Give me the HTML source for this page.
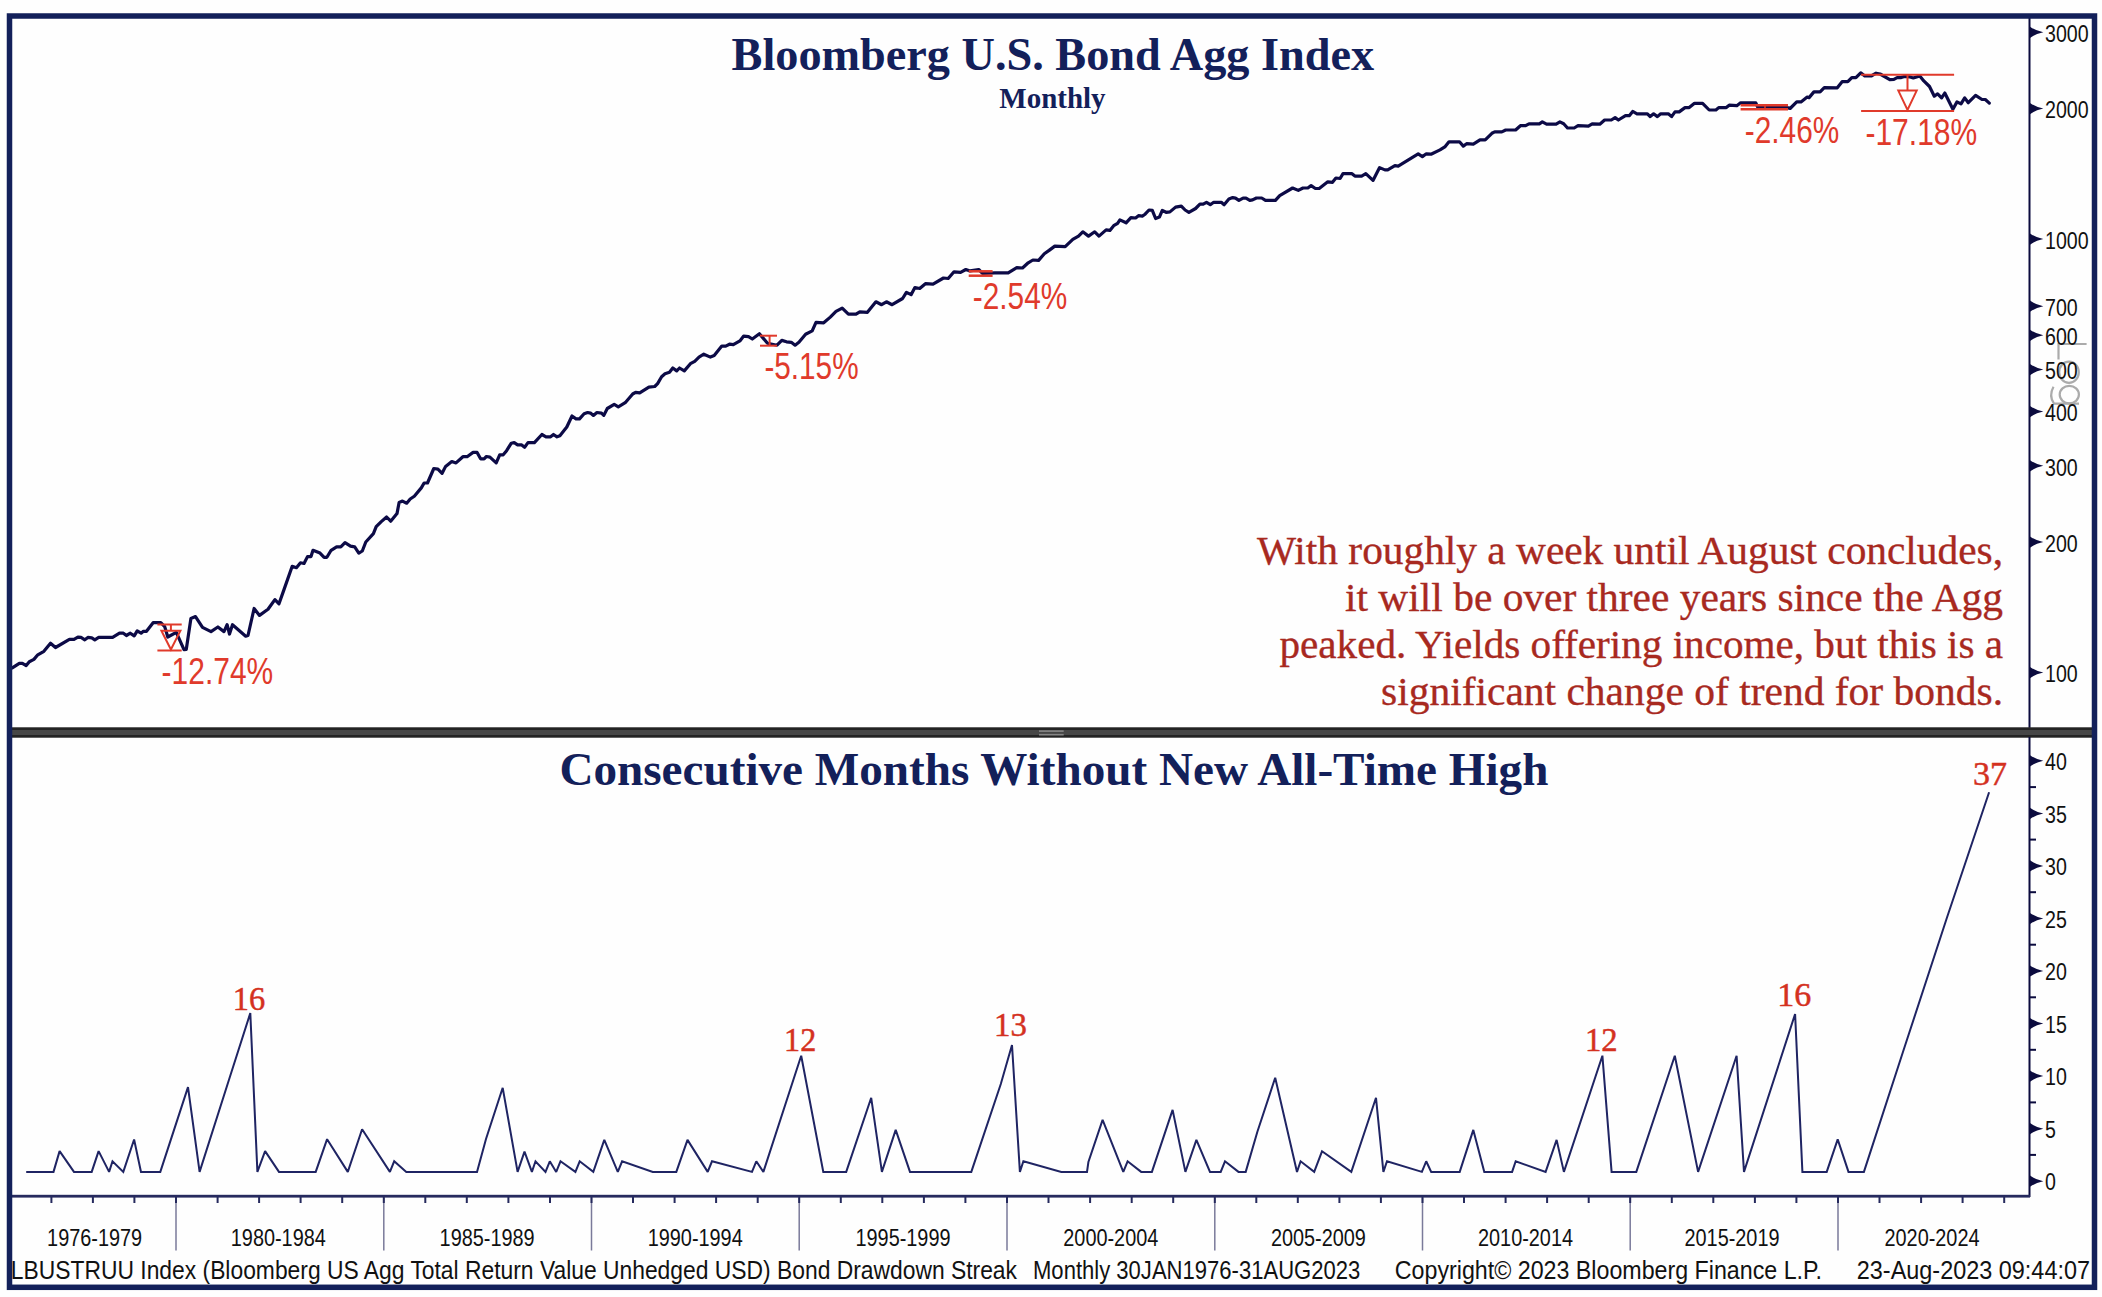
<!DOCTYPE html>
<html><head><meta charset="utf-8"><title>Bloomberg U.S. Bond Agg Index</title>
<style>html,body{margin:0;padding:0;background:#fefefe;overflow:hidden}svg{display:block}</style>
</head><body>
<svg width="2102" height="1297" viewBox="0 0 2102 1297"><rect x="0" y="0" width="2102" height="1297" fill="#fefefe"/><text x="731.6" y="69.8" font-family='"Liberation Serif", serif' font-weight="bold" font-size="46" fill="#13205a" textLength="642.5" lengthAdjust="spacingAndGlyphs">Bloomberg U.S. Bond Agg Index</text><text x="999.3" y="107.7" font-family='"Liberation Serif", serif' font-weight="bold" font-size="28.5" fill="#13205a" textLength="106.3" lengthAdjust="spacingAndGlyphs">Monthly</text><text x="1257" y="564.1" font-family='"Liberation Serif", serif' font-size="40" fill="#a8291f" stroke="#a8291f" stroke-width="0.35" textLength="746" lengthAdjust="spacingAndGlyphs">With roughly a week until August concludes,</text><text x="1345" y="610.7" font-family='"Liberation Serif", serif' font-size="40" fill="#a8291f" stroke="#a8291f" stroke-width="0.35" textLength="658" lengthAdjust="spacingAndGlyphs">it will be over three years since the Agg</text><text x="1279.5" y="658.1" font-family='"Liberation Serif", serif' font-size="40" fill="#a8291f" stroke="#a8291f" stroke-width="0.35" textLength="723.5" lengthAdjust="spacingAndGlyphs">peaked. Yields offering income, but this is a</text><text x="1381" y="705.1" font-family='"Liberation Serif", serif' font-size="40" fill="#a8291f" stroke="#a8291f" stroke-width="0.35" textLength="622" lengthAdjust="spacingAndGlyphs">significant change of trend for bonds.</text><g fill="none" stroke="#ababab" stroke-width="2.2"><path d="M2086.6,344 H2058.5 V359.5"/><ellipse cx="2069" cy="372.2" rx="9.8" ry="10.6"/><ellipse cx="2069.3" cy="394.6" rx="9.6" ry="8.8"/><path d="M2079,403.6 H2054 Q2048.5,396 2053.5,386.8"/></g><line x1="2029.5" y1="18" x2="2029.5" y2="728" stroke="#0b0b3e" stroke-width="2"/><path d="M2030,26.7 Q2035,30.5 2043.3,32.3 Q2035,34.1 2030,37.9 Z" fill="#0b0b3e"/><text x="2045" y="42.1" font-family='"Liberation Sans", sans-serif' font-size="23.5" fill="#111" textLength="43.6" lengthAdjust="spacingAndGlyphs">3000</text><path d="M2030,103.0 Q2035,106.8 2043.3,108.6 Q2035,110.4 2030,114.2 Z" fill="#0b0b3e"/><text x="2045" y="118.4" font-family='"Liberation Sans", sans-serif' font-size="23.5" fill="#111" textLength="43.6" lengthAdjust="spacingAndGlyphs">2000</text><path d="M2030,233.5 Q2035,237.3 2043.3,239.1 Q2035,240.9 2030,244.7 Z" fill="#0b0b3e"/><text x="2045" y="248.9" font-family='"Liberation Sans", sans-serif' font-size="23.5" fill="#111" textLength="43.6" lengthAdjust="spacingAndGlyphs">1000</text><path d="M2030,300.6 Q2035,304.4 2043.3,306.2 Q2035,308.0 2030,311.8 Z" fill="#0b0b3e"/><text x="2045" y="316.0" font-family='"Liberation Sans", sans-serif' font-size="23.5" fill="#111" textLength="32.7" lengthAdjust="spacingAndGlyphs">700</text><path d="M2030,329.7 Q2035,333.5 2043.3,335.3 Q2035,337.1 2030,340.9 Z" fill="#0b0b3e"/><text x="2045" y="345.1" font-family='"Liberation Sans", sans-serif' font-size="23.5" fill="#111" textLength="32.7" lengthAdjust="spacingAndGlyphs">600</text><path d="M2030,364.0 Q2035,367.8 2043.3,369.6 Q2035,371.4 2030,375.2 Z" fill="#0b0b3e"/><text x="2045" y="379.4" font-family='"Liberation Sans", sans-serif' font-size="23.5" fill="#111" textLength="32.7" lengthAdjust="spacingAndGlyphs">500</text><path d="M2030,406.0 Q2035,409.8 2043.3,411.6 Q2035,413.4 2030,417.2 Z" fill="#0b0b3e"/><text x="2045" y="421.4" font-family='"Liberation Sans", sans-serif' font-size="23.5" fill="#111" textLength="32.7" lengthAdjust="spacingAndGlyphs">400</text><path d="M2030,460.2 Q2035,464.0 2043.3,465.8 Q2035,467.6 2030,471.4 Z" fill="#0b0b3e"/><text x="2045" y="475.6" font-family='"Liberation Sans", sans-serif' font-size="23.5" fill="#111" textLength="32.7" lengthAdjust="spacingAndGlyphs">300</text><path d="M2030,536.5 Q2035,540.3 2043.3,542.1 Q2035,543.9 2030,547.7 Z" fill="#0b0b3e"/><text x="2045" y="551.9" font-family='"Liberation Sans", sans-serif' font-size="23.5" fill="#111" textLength="32.7" lengthAdjust="spacingAndGlyphs">200</text><path d="M2030,667.0 Q2035,670.8 2043.3,672.6 Q2035,674.4 2030,678.2 Z" fill="#0b0b3e"/><text x="2045" y="682.4" font-family='"Liberation Sans", sans-serif' font-size="23.5" fill="#111" textLength="32.7" lengthAdjust="spacingAndGlyphs">100</text><polyline points="12.3,667.9 19.3,663.3 22.4,663.3 26.2,665.6 29.3,661.7 33.9,659.4 37.8,654.8 43.9,651.3 50.5,643.2 55.5,647.5 69.4,639.4 74.0,639.4 77.9,637.1 81.0,637.4 84.8,639.8 87.9,637.4 91.8,637.8 94.8,639.8 98.7,637.4 112.6,637.4 119.5,633.2 123.4,633.2 126.4,635.5 130.3,633.2 134.2,635.9 137.2,630.9 141.1,633.2 143.4,631.3 146.5,631.3 153.1,622.7 160.8,622.7 164.7,626.6 167.8,637.0 176.3,632.4 184.0,649.7 186.3,649.3 190.9,618.5 195.5,616.6 202.5,627.4 211.0,631.6 217.9,627.0 224.0,631.6 227.1,624.7 229.5,634.0 232.5,624.7 245.7,636.2 248.0,635.5 254.1,608.5 259.5,615.4 268.0,609.3 274.9,599.6 279.0,603.8 283.9,589.9 292.2,566.3 296.4,567.7 300.5,562.8 304.0,563.5 307.5,556.6 311.0,556.6 313.0,550.3 320.0,553.1 324.1,557.3 326.9,557.3 331.1,550.3 336.6,546.9 340.8,546.9 345.0,542.7 350.5,546.2 354.7,546.9 358.8,553.1 362.3,551.0 365.8,542.0 373.4,533.7 376.2,526.7 381.0,521.9 386.6,517.0 390.7,521.2 397.0,513.6 399.1,502.5 402.5,501.1 406.7,503.2 410.2,499.0 414.3,496.2 421.3,487.9 424.1,483.0 427.5,483.0 433.8,468.5 437.9,469.1 442.1,473.3 445.6,466.4 451.8,461.5 456.0,462.9 462.9,456.7 467.1,456.7 473.1,452.4 477.1,452.4 480.6,458.8 484.1,458.8 486.4,456.5 489.9,457.1 496.2,462.9 499.7,454.8 503.2,454.8 506.6,450.7 511.3,443.2 514.2,442.6 517.6,444.9 521.7,444.9 524.6,447.2 528.0,442.6 534.4,442.6 541.9,434.5 546.0,436.8 550.6,436.8 553.5,434.5 557.0,436.8 559.9,435.7 566.8,427.0 572.0,416.0 576.0,418.9 579.5,418.9 584.1,413.7 587.6,412.5 590.5,413.1 593.4,415.4 596.9,412.5 601.5,413.1 603.8,415.4 607.3,408.5 614.2,404.4 618.3,406.8 625.2,402.7 632.7,394.0 635.6,392.3 639.7,392.9 648.9,387.1 654.7,386.5 657.6,383.6 661.6,376.7 665.0,373.8 669.5,372.3 672.8,368.0 676.7,370.9 679.5,368.0 684.3,370.9 690.4,363.7 694.7,361.3 699.0,357.1 703.8,354.2 710.4,357.1 714.2,355.6 721.8,346.1 725.7,346.1 729.5,344.2 733.3,344.7 739.9,340.9 743.7,336.1 748.5,336.6 752.3,339.0 759.4,333.7 767.5,343.3 777.0,345.2 781.8,340.4 786.5,341.8 791.3,342.3 795.1,345.2 798.9,342.3 805.6,334.2 812.2,330.9 816.0,322.3 823.7,322.8 830.3,317.1 836.0,311.4 842.2,308.1 848.4,314.2 856.0,314.2 859.8,311.8 867.4,312.3 875.9,301.8 881.6,304.7 886.4,301.8 892.1,304.7 902.6,298.5 906.4,292.3 911.1,294.7 914.9,287.5 919.7,288.5 925.4,283.7 933.0,284.2 943.5,278.0 948.2,278.5 954.0,271.8 960.6,272.3 965.8,269.5 970.1,270.9 978.7,269.5 982.5,273.3 994.9,272.8 1008.2,272.8 1016.8,267.6 1022.5,268.0 1028.2,262.8 1032.9,260.0 1038.6,260.4 1044.3,253.8 1049.1,250.4 1054.8,246.1 1065.2,246.6 1072.8,239.4 1078.5,236.1 1082.8,231.8 1088.5,236.1 1094.7,231.8 1099.0,236.1 1106.1,229.9 1109.9,230.4 1113.7,225.7 1117.6,223.3 1119.9,219.9 1126.1,222.8 1130.9,217.6 1135.6,218.0 1138.5,215.7 1142.3,216.1 1145.1,214.2 1149.0,210.0 1152.3,210.4 1155.6,218.5 1159.4,217.1 1162.3,210.4 1166.1,212.3 1169.9,211.9 1175.6,207.1 1181.3,206.1 1185.1,210.0 1188.9,212.3 1195.6,208.5 1199.9,204.2 1203.2,204.2 1206.5,202.3 1210.3,204.7 1213.7,202.3 1221.3,202.3 1224.1,204.7 1228.9,199.0 1232.7,197.6 1235.5,198.1 1238.9,200.4 1243.1,198.1 1246.0,198.1 1249.8,200.4 1252.6,199.9 1256.4,198.0 1261.7,198.0 1265.5,200.4 1275.4,200.4 1279.7,195.6 1292.6,188.0 1298.3,190.4 1303.0,188.0 1307.8,188.0 1311.1,185.6 1315.4,188.5 1319.2,188.5 1327.8,181.8 1332.5,182.3 1335.9,178.0 1340.1,178.5 1343.0,173.7 1352.0,173.7 1354.9,176.1 1361.6,176.1 1365.8,173.7 1373.0,180.4 1379.6,167.6 1384.9,169.9 1387.7,169.9 1394.9,165.7 1398.2,166.1 1418.2,153.8 1422.4,156.6 1426.3,153.8 1431.0,154.2 1440.0,149.9 1445.2,146.6 1449.0,141.8 1459.5,141.8 1463.3,146.1 1466.6,143.7 1473.3,144.2 1480.0,139.9 1485.2,139.9 1491.9,133.3 1494.7,131.9 1501.8,131.9 1505.7,130.0 1515.6,130.0 1520.4,125.7 1525.6,125.7 1529.0,123.8 1539.4,123.8 1542.3,121.9 1546.6,124.2 1556.1,124.2 1559.9,121.9 1563.7,123.8 1567.5,128.0 1574.2,128.0 1578.0,125.7 1588.4,126.1 1592.2,123.8 1599.8,124.2 1604.6,120.0 1611.3,120.0 1615.1,117.6 1618.4,120.0 1625.5,115.7 1629.3,115.7 1632.7,111.4 1637.0,113.8 1647.4,113.8 1650.2,116.6 1653.6,113.8 1657.4,116.6 1660.7,113.8 1668.3,113.8 1671.6,116.6 1675.0,111.9 1679.2,111.9 1685.0,107.6 1689.2,107.6 1694.5,103.3 1702.6,103.3 1709.2,110.0 1715.9,110.0 1718.7,107.6 1726.3,107.6 1729.2,105.2 1736.8,105.7 1740.6,102.8 1755.8,102.8 1757.7,107.1 1787.2,107.6 1790.1,108.5 1796.7,101.9 1801.0,101.9 1807.2,97.1 1809.1,97.6 1813.9,91.9 1820.1,91.9 1824.3,87.6 1837.3,87.8 1842.1,81.7 1847.8,81.7 1851.8,77.6 1855.9,77.6 1860.7,72.8 1864.8,76.0 1871.2,76.0 1876.1,73.2 1880.1,74.0 1889.8,79.7 1893.9,79.3 1897.1,77.6 1901.2,77.6 1904.4,76.4 1909.3,76.8 1913.3,78.0 1919.8,76.0 1923.8,80.9 1929.5,86.5 1934.3,96.2 1937.6,93.8 1941.6,97.9 1944.8,93.0 1952.9,109.2 1957.0,101.9 1961.0,103.9 1964.7,97.9 1968.3,102.7 1975.6,95.4 1982.0,99.5 1985.3,99.5 1989.3,103.1" fill="none" stroke="#0c0a46" stroke-width="3.2" stroke-linejoin="round" stroke-linecap="round"/><line x1="157.4" y1="624.5" x2="181.7" y2="624.5" stroke="#e03a2b" stroke-width="2"/><line x1="157.4" y1="650.5" x2="181.7" y2="650.5" stroke="#e03a2b" stroke-width="2"/><line x1="170.9" y1="624.5" x2="170.9" y2="630.8" stroke="#e03a2b" stroke-width="2"/><path d="M161.4,630.8 L180.4,630.8 L170.9,649.5 Z" fill="none" stroke="#e03a2b" stroke-width="2" stroke-linejoin="miter"/><line x1="1861.1" y1="74.8" x2="1954.1" y2="74.8" stroke="#e03a2b" stroke-width="2"/><line x1="1861.1" y1="111" x2="1954.1" y2="111" stroke="#e03a2b" stroke-width="2"/><line x1="1907.5" y1="74.8" x2="1907.5" y2="90.6" stroke="#e03a2b" stroke-width="2"/><path d="M1898.3,90.6 L1916.7,90.6 L1907.5,110 Z" fill="none" stroke="#e03a2b" stroke-width="2" stroke-linejoin="miter"/><line x1="760" y1="335.7" x2="777" y2="335.7" stroke="#e03a2b" stroke-width="2"/><line x1="760" y1="345.7" x2="777" y2="345.7" stroke="#e03a2b" stroke-width="2"/><line x1="769.6" y1="335.7" x2="769.6" y2="345.7" stroke="#e03a2b" stroke-width="2"/><line x1="968.7" y1="271.3" x2="992.6" y2="271.3" stroke="#e03a2b" stroke-width="2.5"/><line x1="968.7" y1="275.7" x2="992.6" y2="275.7" stroke="#e03a2b" stroke-width="2.5"/><line x1="1740.6" y1="105.3" x2="1788" y2="105.3" stroke="#e03a2b" stroke-width="2.5"/><line x1="1740.6" y1="109.3" x2="1788" y2="109.3" stroke="#e03a2b" stroke-width="2.5"/><line x1="1765" y1="105.3" x2="1765" y2="109.3" stroke="#e03a2b" stroke-width="1.5"/><text x="161.60000000000002" y="684.3000000000001" font-family='"Liberation Sans", sans-serif' font-size="37" fill="#e03a2b" textLength="111.6" lengthAdjust="spacingAndGlyphs">-12.74%</text><text x="764.4" y="378.90000000000003" font-family='"Liberation Sans", sans-serif' font-size="37" fill="#e03a2b" textLength="94.2" lengthAdjust="spacingAndGlyphs">-5.15%</text><text x="972.8" y="309.3" font-family='"Liberation Sans", sans-serif' font-size="37" fill="#e03a2b" textLength="94.5" lengthAdjust="spacingAndGlyphs">-2.54%</text><text x="1744.8" y="142.6" font-family='"Liberation Sans", sans-serif' font-size="37" fill="#e03a2b" textLength="94.5" lengthAdjust="spacingAndGlyphs">-2.46%</text><text x="1865.3999999999999" y="144.79999999999998" font-family='"Liberation Sans", sans-serif' font-size="37" fill="#e03a2b" textLength="111.9" lengthAdjust="spacingAndGlyphs">-17.18%</text><rect x="7" y="727.5" width="2090" height="10" fill="#464646"/><rect x="7" y="727.5" width="2090" height="2.5" fill="#232323"/><rect x="7" y="735" width="2090" height="2.5" fill="#232323"/><rect x="1039" y="730.3" width="24.7" height="1.6" fill="#858585"/><rect x="1039" y="733.9" width="24.7" height="1.6" fill="#858585"/><text x="559.4" y="785.4" font-family='"Liberation Serif", serif' font-weight="bold" font-size="45.5" fill="#13205a" textLength="989" lengthAdjust="spacingAndGlyphs">Consecutive Months Without New All-Time High</text><line x1="2029.5" y1="737" x2="2029.5" y2="1197" stroke="#0b0b3e" stroke-width="2"/><path d="M2030,1175.6 Q2035,1179.4 2043.3,1181.2 Q2035,1183.0 2030,1186.8 Z" fill="#0b0b3e"/><text x="2045" y="1190.3" font-family='"Liberation Sans", sans-serif' font-size="23.5" fill="#111" textLength="10.9" lengthAdjust="spacingAndGlyphs">0</text><path d="M2030,1123.1 Q2035,1126.9 2043.3,1128.7 Q2035,1130.5 2030,1134.2 Z" fill="#0b0b3e"/><text x="2045" y="1137.8" font-family='"Liberation Sans", sans-serif' font-size="23.5" fill="#111" textLength="10.9" lengthAdjust="spacingAndGlyphs">5</text><path d="M2030,1070.5 Q2035,1074.3 2043.3,1076.1 Q2035,1077.9 2030,1081.7 Z" fill="#0b0b3e"/><text x="2045" y="1085.2" font-family='"Liberation Sans", sans-serif' font-size="23.5" fill="#111" textLength="21.8" lengthAdjust="spacingAndGlyphs">10</text><path d="M2030,1018.0 Q2035,1021.8 2043.3,1023.6 Q2035,1025.4 2030,1029.2 Z" fill="#0b0b3e"/><text x="2045" y="1032.7" font-family='"Liberation Sans", sans-serif' font-size="23.5" fill="#111" textLength="21.8" lengthAdjust="spacingAndGlyphs">15</text><path d="M2030,965.4 Q2035,969.2 2043.3,971.0 Q2035,972.8 2030,976.6 Z" fill="#0b0b3e"/><text x="2045" y="980.1" font-family='"Liberation Sans", sans-serif' font-size="23.5" fill="#111" textLength="21.8" lengthAdjust="spacingAndGlyphs">20</text><path d="M2030,912.9 Q2035,916.7 2043.3,918.5 Q2035,920.2 2030,924.1 Z" fill="#0b0b3e"/><text x="2045" y="927.6" font-family='"Liberation Sans", sans-serif' font-size="23.5" fill="#111" textLength="21.8" lengthAdjust="spacingAndGlyphs">25</text><path d="M2030,860.3 Q2035,864.1 2043.3,865.9 Q2035,867.7 2030,871.5 Z" fill="#0b0b3e"/><text x="2045" y="875.0" font-family='"Liberation Sans", sans-serif' font-size="23.5" fill="#111" textLength="21.8" lengthAdjust="spacingAndGlyphs">30</text><path d="M2030,807.8 Q2035,811.6 2043.3,813.4 Q2035,815.2 2030,819.0 Z" fill="#0b0b3e"/><text x="2045" y="822.5" font-family='"Liberation Sans", sans-serif' font-size="23.5" fill="#111" textLength="21.8" lengthAdjust="spacingAndGlyphs">35</text><path d="M2030,755.2 Q2035,759.0 2043.3,760.8 Q2035,762.6 2030,766.4 Z" fill="#0b0b3e"/><text x="2045" y="769.9" font-family='"Liberation Sans", sans-serif' font-size="23.5" fill="#111" textLength="21.8" lengthAdjust="spacingAndGlyphs">40</text><line x1="2029" y1="1154.9" x2="2036" y2="1154.9" stroke="#0b0b3e" stroke-width="2"/><line x1="2029" y1="1102.4" x2="2036" y2="1102.4" stroke="#0b0b3e" stroke-width="2"/><line x1="2029" y1="1049.8" x2="2036" y2="1049.8" stroke="#0b0b3e" stroke-width="2"/><line x1="2029" y1="997.3" x2="2036" y2="997.3" stroke="#0b0b3e" stroke-width="2"/><line x1="2029" y1="944.7" x2="2036" y2="944.7" stroke="#0b0b3e" stroke-width="2"/><line x1="2029" y1="892.2" x2="2036" y2="892.2" stroke="#0b0b3e" stroke-width="2"/><line x1="2029" y1="839.6" x2="2036" y2="839.6" stroke="#0b0b3e" stroke-width="2"/><line x1="2029" y1="787.1" x2="2036" y2="787.1" stroke="#0b0b3e" stroke-width="2"/><rect x="12" y="1194.8" width="2018" height="2.8" fill="#262a5e"/><line x1="51.4" y1="1197" x2="51.4" y2="1203" stroke="#262a5e" stroke-width="2"/><line x1="92.9" y1="1197" x2="92.9" y2="1203" stroke="#262a5e" stroke-width="2"/><line x1="134.4" y1="1197" x2="134.4" y2="1203" stroke="#262a5e" stroke-width="2"/><line x1="176.0" y1="1197" x2="176.0" y2="1250.5" stroke="#7a7a9a" stroke-width="1.5"/><line x1="176.0" y1="1197" x2="176.0" y2="1203" stroke="#262a5e" stroke-width="2"/><line x1="217.6" y1="1197" x2="217.6" y2="1203" stroke="#262a5e" stroke-width="2"/><line x1="259.1" y1="1197" x2="259.1" y2="1203" stroke="#262a5e" stroke-width="2"/><line x1="300.6" y1="1197" x2="300.6" y2="1203" stroke="#262a5e" stroke-width="2"/><line x1="342.2" y1="1197" x2="342.2" y2="1203" stroke="#262a5e" stroke-width="2"/><line x1="383.8" y1="1197" x2="383.8" y2="1250.5" stroke="#7a7a9a" stroke-width="1.5"/><line x1="383.8" y1="1197" x2="383.8" y2="1203" stroke="#262a5e" stroke-width="2"/><line x1="425.3" y1="1197" x2="425.3" y2="1203" stroke="#262a5e" stroke-width="2"/><line x1="466.8" y1="1197" x2="466.8" y2="1203" stroke="#262a5e" stroke-width="2"/><line x1="508.4" y1="1197" x2="508.4" y2="1203" stroke="#262a5e" stroke-width="2"/><line x1="550.0" y1="1197" x2="550.0" y2="1203" stroke="#262a5e" stroke-width="2"/><line x1="591.5" y1="1197" x2="591.5" y2="1250.5" stroke="#7a7a9a" stroke-width="1.5"/><line x1="591.5" y1="1197" x2="591.5" y2="1203" stroke="#262a5e" stroke-width="2"/><line x1="633.0" y1="1197" x2="633.0" y2="1203" stroke="#262a5e" stroke-width="2"/><line x1="674.6" y1="1197" x2="674.6" y2="1203" stroke="#262a5e" stroke-width="2"/><line x1="716.1" y1="1197" x2="716.1" y2="1203" stroke="#262a5e" stroke-width="2"/><line x1="757.7" y1="1197" x2="757.7" y2="1203" stroke="#262a5e" stroke-width="2"/><line x1="799.2" y1="1197" x2="799.2" y2="1250.5" stroke="#7a7a9a" stroke-width="1.5"/><line x1="799.2" y1="1197" x2="799.2" y2="1203" stroke="#262a5e" stroke-width="2"/><line x1="840.8" y1="1197" x2="840.8" y2="1203" stroke="#262a5e" stroke-width="2"/><line x1="882.3" y1="1197" x2="882.3" y2="1203" stroke="#262a5e" stroke-width="2"/><line x1="923.9" y1="1197" x2="923.9" y2="1203" stroke="#262a5e" stroke-width="2"/><line x1="965.4" y1="1197" x2="965.4" y2="1203" stroke="#262a5e" stroke-width="2"/><line x1="1007.0" y1="1197" x2="1007.0" y2="1250.5" stroke="#7a7a9a" stroke-width="1.5"/><line x1="1007.0" y1="1197" x2="1007.0" y2="1203" stroke="#262a5e" stroke-width="2"/><line x1="1048.5" y1="1197" x2="1048.5" y2="1203" stroke="#262a5e" stroke-width="2"/><line x1="1090.1" y1="1197" x2="1090.1" y2="1203" stroke="#262a5e" stroke-width="2"/><line x1="1131.7" y1="1197" x2="1131.7" y2="1203" stroke="#262a5e" stroke-width="2"/><line x1="1173.2" y1="1197" x2="1173.2" y2="1203" stroke="#262a5e" stroke-width="2"/><line x1="1214.8" y1="1197" x2="1214.8" y2="1250.5" stroke="#7a7a9a" stroke-width="1.5"/><line x1="1214.8" y1="1197" x2="1214.8" y2="1203" stroke="#262a5e" stroke-width="2"/><line x1="1256.3" y1="1197" x2="1256.3" y2="1203" stroke="#262a5e" stroke-width="2"/><line x1="1297.8" y1="1197" x2="1297.8" y2="1203" stroke="#262a5e" stroke-width="2"/><line x1="1339.4" y1="1197" x2="1339.4" y2="1203" stroke="#262a5e" stroke-width="2"/><line x1="1380.9" y1="1197" x2="1380.9" y2="1203" stroke="#262a5e" stroke-width="2"/><line x1="1422.5" y1="1197" x2="1422.5" y2="1250.5" stroke="#7a7a9a" stroke-width="1.5"/><line x1="1422.5" y1="1197" x2="1422.5" y2="1203" stroke="#262a5e" stroke-width="2"/><line x1="1464.0" y1="1197" x2="1464.0" y2="1203" stroke="#262a5e" stroke-width="2"/><line x1="1505.6" y1="1197" x2="1505.6" y2="1203" stroke="#262a5e" stroke-width="2"/><line x1="1547.1" y1="1197" x2="1547.1" y2="1203" stroke="#262a5e" stroke-width="2"/><line x1="1588.7" y1="1197" x2="1588.7" y2="1203" stroke="#262a5e" stroke-width="2"/><line x1="1630.2" y1="1197" x2="1630.2" y2="1250.5" stroke="#7a7a9a" stroke-width="1.5"/><line x1="1630.2" y1="1197" x2="1630.2" y2="1203" stroke="#262a5e" stroke-width="2"/><line x1="1671.8" y1="1197" x2="1671.8" y2="1203" stroke="#262a5e" stroke-width="2"/><line x1="1713.3" y1="1197" x2="1713.3" y2="1203" stroke="#262a5e" stroke-width="2"/><line x1="1754.9" y1="1197" x2="1754.9" y2="1203" stroke="#262a5e" stroke-width="2"/><line x1="1796.4" y1="1197" x2="1796.4" y2="1203" stroke="#262a5e" stroke-width="2"/><line x1="1838.0" y1="1197" x2="1838.0" y2="1250.5" stroke="#7a7a9a" stroke-width="1.5"/><line x1="1838.0" y1="1197" x2="1838.0" y2="1203" stroke="#262a5e" stroke-width="2"/><line x1="1879.5" y1="1197" x2="1879.5" y2="1203" stroke="#262a5e" stroke-width="2"/><line x1="1921.1" y1="1197" x2="1921.1" y2="1203" stroke="#262a5e" stroke-width="2"/><line x1="1962.6" y1="1197" x2="1962.6" y2="1203" stroke="#262a5e" stroke-width="2"/><line x1="2004.2" y1="1197" x2="2004.2" y2="1203" stroke="#262a5e" stroke-width="2"/><text x="47.1" y="1245.8" font-family='"Liberation Sans", sans-serif' font-size="23.5" fill="#111" textLength="95" lengthAdjust="spacingAndGlyphs">1976-1979</text><text x="230.8" y="1245.8" font-family='"Liberation Sans", sans-serif' font-size="23.5" fill="#111" textLength="95" lengthAdjust="spacingAndGlyphs">1980-1984</text><text x="439.6" y="1245.8" font-family='"Liberation Sans", sans-serif' font-size="23.5" fill="#111" textLength="95" lengthAdjust="spacingAndGlyphs">1985-1989</text><text x="647.7" y="1245.8" font-family='"Liberation Sans", sans-serif' font-size="23.5" fill="#111" textLength="95" lengthAdjust="spacingAndGlyphs">1990-1994</text><text x="855.5" y="1245.8" font-family='"Liberation Sans", sans-serif' font-size="23.5" fill="#111" textLength="95" lengthAdjust="spacingAndGlyphs">1995-1999</text><text x="1063.3" y="1245.8" font-family='"Liberation Sans", sans-serif' font-size="23.5" fill="#111" textLength="95" lengthAdjust="spacingAndGlyphs">2000-2004</text><text x="1270.9" y="1245.8" font-family='"Liberation Sans", sans-serif' font-size="23.5" fill="#111" textLength="95" lengthAdjust="spacingAndGlyphs">2005-2009</text><text x="1478.0" y="1245.8" font-family='"Liberation Sans", sans-serif' font-size="23.5" fill="#111" textLength="95" lengthAdjust="spacingAndGlyphs">2010-2014</text><text x="1684.5" y="1245.8" font-family='"Liberation Sans", sans-serif' font-size="23.5" fill="#111" textLength="95" lengthAdjust="spacingAndGlyphs">2015-2019</text><text x="1884.5" y="1245.8" font-family='"Liberation Sans", sans-serif' font-size="23.5" fill="#111" textLength="95" lengthAdjust="spacingAndGlyphs">2020-2024</text><polyline points="26.2,1171.9 53.5,1171.9 59.6,1151.1 74.0,1171.9 91.7,1171.9 98.6,1151.1 109.1,1171.9 112.5,1161.3 123.3,1171.9 134.1,1139.5 141.0,1171.9 160.3,1171.9 188.0,1087.1 199.6,1171.9 228.9,1080.0 250.3,1013.1 257.4,1171.9 265.1,1151.1 279.0,1171.9 315.7,1171.9 327.1,1139.2 347.8,1171.9 362.1,1129.2 389.9,1171.9 394.2,1161.3 406.3,1171.9 477.0,1171.9 486.0,1139.0 502.7,1087.8 517.6,1171.9 524.5,1151.6 531.9,1171.9 535.5,1161.3 545.5,1171.9 549.8,1161.3 556.2,1171.9 560.5,1161.3 575.4,1171.9 579.7,1161.3 593.3,1171.9 604.3,1139.9 617.8,1171.9 622.1,1161.3 652.8,1171.9 676.3,1171.9 687.5,1139.9 707.7,1171.9 712.0,1161.3 752.0,1171.9 756.3,1161.3 763.4,1171.9 801.2,1055.7 823.3,1171.9 846.2,1171.9 871.2,1097.8 881.9,1171.9 895.7,1129.9 910.0,1171.9 971.3,1171.9 1000.8,1084.0 1012.0,1045.0 1019.9,1171.9 1023.4,1161.3 1061.3,1171.9 1087.0,1171.9 1088.4,1162.0 1102.6,1119.9 1123.3,1171.9 1127.6,1161.3 1141.2,1171.9 1151.9,1171.9 1172.6,1109.9 1185.4,1171.9 1196.4,1139.9 1210.0,1171.9 1220.7,1171.9 1225.0,1161.3 1238.5,1171.9 1245.7,1171.9 1257.3,1132.0 1275.2,1077.8 1297.0,1171.9 1300.6,1161.3 1314.2,1171.9 1322.0,1151.3 1351.3,1171.9 1376.0,1097.8 1383.4,1171.9 1387.0,1161.3 1421.9,1171.9 1426.2,1161.3 1431.2,1171.9 1459.7,1171.9 1473.3,1129.9 1484.3,1171.9 1512.1,1171.9 1515.7,1161.3 1545.6,1171.9 1556.6,1139.9 1563.9,1171.9 1602.4,1055.7 1611.6,1171.9 1636.3,1171.9 1674.8,1055.7 1698.1,1171.9 1736.6,1055.7 1744.0,1171.9 1795.1,1014.0 1802.4,1171.9 1826.7,1171.9 1837.7,1139.4 1848.5,1171.9 1863.9,1171.9 1902.7,1052.8 1946.5,919.0 1989.1,792.2" fill="none" stroke="#1f2463" stroke-width="2.0" stroke-linejoin="miter" stroke-miterlimit="2"/><text x="232.7" y="1010" font-family='"Liberation Serif", serif' font-size="34" fill="#d4311f" stroke="#d4311f" stroke-width="0.5" textLength="32.4" lengthAdjust="spacingAndGlyphs">16</text><text x="784.1" y="1050.5" font-family='"Liberation Serif", serif' font-size="34" fill="#d4311f" stroke="#d4311f" stroke-width="0.5" textLength="32.1" lengthAdjust="spacingAndGlyphs">12</text><text x="994.1" y="1035.7" font-family='"Liberation Serif", serif' font-size="34" fill="#d4311f" stroke="#d4311f" stroke-width="0.5" textLength="32.8" lengthAdjust="spacingAndGlyphs">13</text><text x="1585" y="1050.7" font-family='"Liberation Serif", serif' font-size="34" fill="#d4311f" stroke="#d4311f" stroke-width="0.5" textLength="32.7" lengthAdjust="spacingAndGlyphs">12</text><text x="1777.3" y="1005.9" font-family='"Liberation Serif", serif' font-size="34" fill="#d4311f" stroke="#d4311f" stroke-width="0.5" textLength="34.0" lengthAdjust="spacingAndGlyphs">16</text><text x="1973" y="785" font-family='"Liberation Serif", serif' font-size="34" fill="#d4311f" stroke="#d4311f" stroke-width="0.5" textLength="34.0" lengthAdjust="spacingAndGlyphs">37</text><text x="10.8" y="1279" font-family='"Liberation Sans", sans-serif' font-size="25.8" fill="#111" textLength="1006.2" lengthAdjust="spacingAndGlyphs">LBUSTRUU Index (Bloomberg US Agg Total Return Value Unhedged USD) Bond Drawdown Streak</text><text x="1033" y="1279" font-family='"Liberation Sans", sans-serif' font-size="25.8" fill="#111" textLength="327.3" lengthAdjust="spacingAndGlyphs">Monthly 30JAN1976-31AUG2023</text><text x="1394.8" y="1279" font-family='"Liberation Sans", sans-serif' font-size="25.8" fill="#111" textLength="427.2" lengthAdjust="spacingAndGlyphs">Copyright© 2023 Bloomberg Finance L.P.</text><text x="1856.8" y="1279" font-family='"Liberation Sans", sans-serif' font-size="25.8" fill="#111" textLength="233.2" lengthAdjust="spacingAndGlyphs">23-Aug-2023 09:44:07</text><rect x="9.5" y="16" width="2085" height="1271.3" fill="none" stroke="#13205a" stroke-width="5.5"/></svg>
</body></html>
